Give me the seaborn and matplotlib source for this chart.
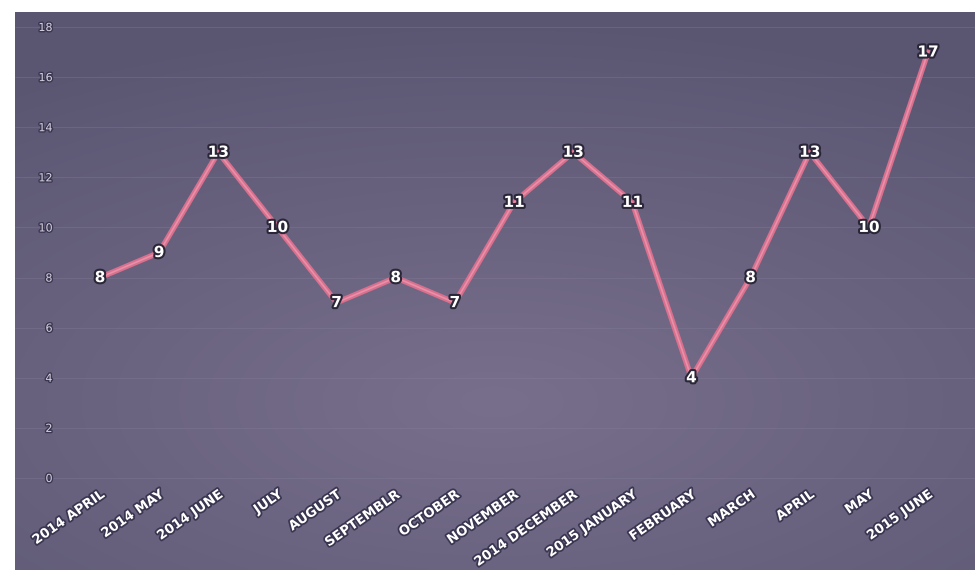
import numpy as np
import pandas as pd
import seaborn as sns
import matplotlib
matplotlib.use("Agg")
import matplotlib.pyplot as plt
import matplotlib.patheffects as pe

months = ["2014 APRIL", "2014 MAY", "2014 JUNE", "JULY", "AUGUST", "SEPTEMBLR",
          "OCTOBER", "NOVEMBER", "2014 DECEMBER", "2015 JANUARY", "FEBRUARY",
          "MARCH", "APRIL", "MAY", "2015 JUNE"]
counts = [8, 9, 13, 10, 7, 8, 7, 11, 13, 11, 4, 8, 13, 10, 17]
y_ticks = [0, 2, 4, 6, 8, 10, 12, 14, 16, 18]

df = pd.DataFrame({"month": months, "count": counts, "idx": range(len(months))})

sns.set_style("white")
W, H = 977, 581
fig = plt.figure(figsize=(W / 100, H / 100), dpi=100)
fig.patch.set_facecolor("white")

# background panel with soft gradient
L, R, T, B = 15, 975, 12, 570
bg = fig.add_axes([L / W, 1 - B / H, (R - L) / W, (B - T) / H])
yy, xx = np.mgrid[0:1:200j, 0:1:300j]
c_dark = np.array([0x5a, 0x56, 0x72]) / 255
c_light = np.array([0x78, 0x6f, 0x8c]) / 255
d = np.sqrt(((xx - 0.5) * 1.0) ** 2 + ((yy - 0.7) * 1.3) ** 2)
t = np.clip(1 - d / 0.9, 0, 1)[..., None]
img = c_dark * (1 - t) + c_light * t
bg.imshow(img, aspect="auto", extent=[0, 1, 0, 1], origin="upper")
bg.set_axis_off()

# data axes
px_unit_y = (478 - 27) / 18.0
px_unit_x = (928 - 100) / 14.0
x0 = (L - 100) / px_unit_x
x1 = (R - 100) / px_unit_x
ytop = (478 - T) / px_unit_y
ybot = -0.5
bot_px = 478 - ybot * px_unit_y
ax = fig.add_axes([L / W, 1 - bot_px / H, (R - L) / W, (bot_px - T) / H])
ax.patch.set_alpha(0)

sns.lineplot(data=df, x="idx", y="count", ax=ax, color="#d9708e", linewidth=4,
             solid_capstyle="round", zorder=3)
ax.plot(df["idx"], df["count"], color="#e890aa", linewidth=1.2, zorder=4)

outline = [pe.withStroke(linewidth=3, foreground="#2a2638")]
for i, v in zip(df["idx"], df["count"]):
    ax.text(i, v, str(v), ha="center", va="center", color="white", fontsize=11,
            fontweight="bold", zorder=5, path_effects=outline)

ax.set_xlim(x0, x1)
ax.set_ylim(ybot, ytop)
ax.set_yticks(y_ticks)
ax.set_yticklabels([str(v) for v in y_ticks], color="#d8d4e0", fontsize=8,
                   path_effects=[pe.withStroke(linewidth=2, foreground="#3a3550")])
ax.tick_params(axis="y", length=0, pad=-27)
ax.set_xticks(df["idx"])
ax.set_xticklabels(months, rotation=35, ha="right", rotation_mode="anchor",
                   color="white", fontsize=9.5, fontweight="semibold",
                   path_effects=[pe.withStroke(linewidth=2.5, foreground="#3a3550")])
ax.tick_params(axis="x", length=0, pad=-2)
ax.grid(axis="y", color="#8a84a0", linewidth=0.6, alpha=0.35)
for s in ax.spines.values():
    s.set_visible(False)
ax.set_xlabel("")
ax.set_ylabel("")

fig.savefig("out.png", dpi=100, facecolor="white")
